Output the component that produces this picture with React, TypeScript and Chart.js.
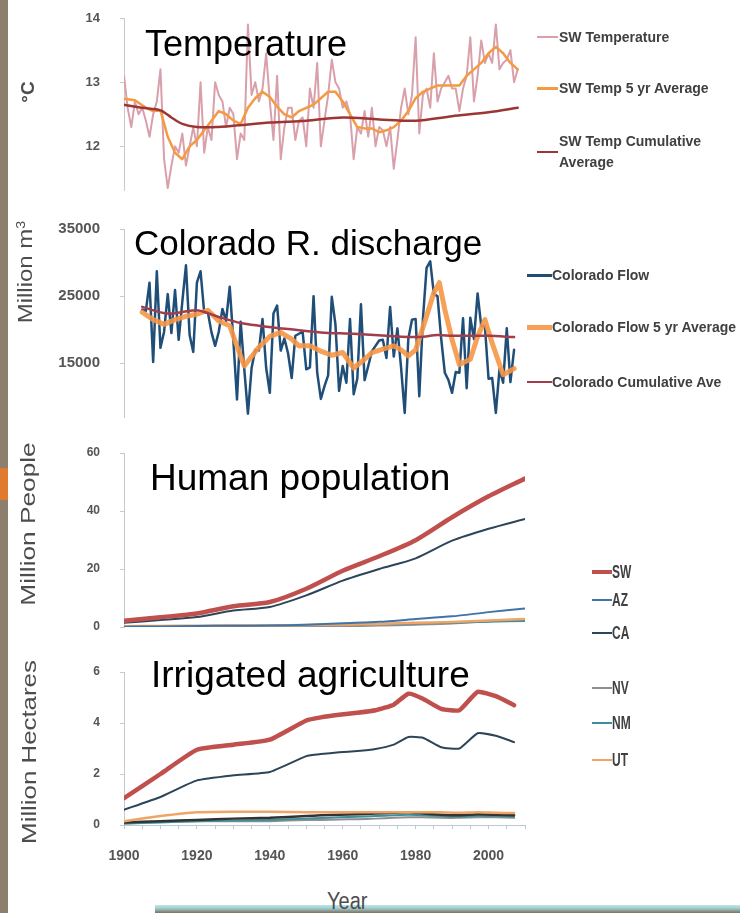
import React, { useEffect, useRef } from "react";
import { Chart, registerables } from "chart.js";
Chart.register(...registerables);

// ---------- DATA ----------
const xMinYear = 1900;
const xMaxYear = 2010;
const xTickLabels = [1900, 1920, 1940, 1960, 1980, 2000];

// Panel 1: SW temperature (°C), annual from 1900
const tempFirstYear = 1900;
const tempAnnual = [
  13.1, 12.6, 12.3, 12.7, 12.5, 12.6, 12.4, 12.15, 12.5, 12.7,
  13.2, 11.8, 11.35, 11.7, 12.0, 11.9, 12.2, 11.7, 12.0, 12.3,
  12.0, 13.0, 11.9, 12.3, 12.1, 13.0, 12.8, 12.7, 12.3, 12.6,
  12.5, 11.8, 12.2, 12.1, 13.9, 12.8, 13.0, 12.7, 12.9, 13.45,
  12.7, 12.1, 13.1, 11.8, 12.3, 12.6, 12.6, 12.1, 12.4, 12.45,
  12.0, 12.9, 12.6, 13.3, 12.0, 12.4, 12.8, 13.35, 13.0, 12.9,
  12.6, 12.7, 12.5, 11.8, 12.3, 12.2, 12.55, 12.15, 12.6, 12.0,
  12.3, 12.25, 12.0, 12.3, 11.65, 12.1, 12.6, 12.9, 12.5, 12.8,
  13.7, 12.2, 12.8, 12.9, 12.6, 13.45, 12.7, 12.9, 13.0, 13.1,
  12.9, 12.9, 12.55, 12.9, 13.1, 13.7, 12.7, 13.1, 13.65, 13.3,
  13.45, 13.3, 13.9, 13.2, 13.3, 13.35, 13.5, 13.0, 13.2,
];
const temp5Years = [1900, 1903, 1906, 1908, 1910, 1912, 1914, 1916, 1918, 1920, 1922, 1924, 1926, 1928, 1930, 1932, 1934, 1936, 1938, 1940, 1942, 1944, 1946, 1948, 1950, 1952, 1954, 1956, 1958, 1960, 1962, 1964, 1966, 1968, 1970, 1972, 1974, 1976, 1978, 1980, 1982, 1984, 1986, 1988, 1990, 1992, 1994, 1996, 1998, 2000, 2002, 2004, 2006, 2008];
const temp5Values = [12.74, 12.72, 12.6, 12.55, 12.56, 12.15, 11.9, 11.8, 12.0, 12.1, 12.25, 12.4, 12.55, 12.5, 12.4, 12.35, 12.6, 12.75, 12.85, 12.77, 12.62, 12.5, 12.45, 12.55, 12.6, 12.65, 12.75, 12.85, 12.85, 12.7, 12.5, 12.3, 12.28, 12.28, 12.22, 12.25, 12.3, 12.4, 12.55, 12.75, 12.85, 12.9, 12.95, 12.95, 12.95, 12.95, 13.1, 13.2, 13.3, 13.45, 13.55, 13.45, 13.3, 13.2];
const tempCumYears = [1900, 1905, 1910, 1913, 1916, 1920, 1925, 1930, 1940, 1950, 1960, 1970, 1980, 1990, 2000, 2008];
const tempCumValues = [12.65, 12.6, 12.56, 12.45, 12.35, 12.3, 12.3, 12.32, 12.37, 12.4, 12.45, 12.42, 12.4, 12.47, 12.53, 12.6];
const tempTicks = [12, 13, 14];

// Panel 2: Colorado River discharge (million m3), annual from 1905
const flowFirstYear = 1905;
const flowAnnual = [
  23000, 22800, 27000, 15200, 28700, 17300, 19700, 25300, 19500, 25900,
  18500, 24200, 29600, 19200, 16700, 27000, 28700, 22600, 22600, 19600,
  17600, 19700, 23100, 21300, 26400, 18400, 9600, 21200, 14100, 7500,
  14300, 17000, 16900, 21600, 14300, 10600, 22400, 23600, 16900, 18700,
  16500, 12800, 19100, 19400, 19700, 14100, 14400, 25000, 13600, 9700,
  11600, 13200, 24900, 20800, 10900, 14600, 12100, 21600, 10400, 12700,
  23800, 12500, 14600, 16800, 17600, 18400, 18500, 15800, 23400, 16000,
  20200, 14400, 7600, 18700, 21500, 21600, 10100, 21600, 29200, 30200,
  25300, 25000, 18700, 13600, 12500, 10600, 13700, 13600, 21700, 11300,
  21800, 18600, 25400, 20500, 20500, 12700, 12800, 7600, 14100, 12100,
  20200, 12200, 17000,
];
const flow5Years = [1905, 1908, 1911, 1914, 1917, 1920, 1923, 1926, 1929, 1931, 1933, 1935, 1937, 1940, 1943, 1946, 1948, 1951, 1954, 1957, 1960, 1963, 1966, 1968, 1971, 1974, 1976, 1978, 1980, 1983, 1985, 1986.5, 1988, 1990, 1992, 1995, 1997, 1999, 2001, 2004, 2007];
const flow5Values = [22600, 21500, 20800, 21500, 22000, 22300, 22900, 21300, 20600, 17500, 14600, 16000, 17400, 19000, 19600, 18600, 17600, 17600, 16800, 16200, 16600, 14300, 15600, 16600, 17100, 17600, 17000, 16100, 17000, 22000, 25500, 27000, 23000, 18500, 14800, 15600, 19000, 21500, 18000, 13300, 14200];
const flowCumYears = [1905, 1912, 1920, 1926, 1932, 1937, 1945, 1954, 1963, 1972, 1981, 1986, 1990, 2000, 2007];
const flowCumValues = [23400, 22400, 22900, 21900, 21000, 20600, 20100, 19600, 19400, 19100, 18900, 19200, 19100, 19100, 18900];
const flowTicks = [15000, 25000, 35000];

// Panel 3: Human population (million people), census years
const popYears = [1900, 1910, 1920, 1930, 1940, 1950, 1960, 1970, 1980, 1990, 2000, 2010];
const popSW = [2.13, 3.36, 4.65, 7.14, 8.6, 13.2, 19.4, 24.4, 29.95, 37.85, 45.05, 51.16];
const popAZ = [0.12, 0.2, 0.33, 0.44, 0.5, 0.75, 1.3, 1.77, 2.72, 3.67, 5.13, 6.39];
const popCA = [1.49, 2.38, 3.43, 5.68, 6.91, 10.9, 16.0, 20.0, 23.67, 29.76, 33.87, 37.25];
const popNV = [0.04, 0.08, 0.08, 0.09, 0.11, 0.16, 0.29, 0.49, 0.8, 1.2, 2.0, 2.7];
const popNM = [0.2, 0.33, 0.36, 0.42, 0.53, 0.68, 0.95, 1.02, 1.3, 1.5, 1.82, 2.06];
const popUT = [0.28, 0.37, 0.45, 0.51, 0.55, 0.69, 0.89, 1.06, 1.46, 1.72, 2.23, 2.76];
const popTicks = [0, 20, 40, 60];

// Panel 4: Irrigated agriculture (million hectares)
const irrYears = [1900, 1910, 1920, 1930, 1940, 1950, 1954, 1959, 1964, 1969, 1974, 1978, 1982, 1987, 1992, 1997, 2002, 2007];
const irrSW = [1.05, 2.0, 2.95, 3.15, 3.35, 4.1, 4.22, 4.32, 4.4, 4.5, 4.72, 5.15, 4.95, 4.55, 4.5, 5.22, 5.05, 4.7];
const irrCA = [0.6, 1.1, 1.75, 1.95, 2.08, 2.7, 2.78, 2.85, 2.9, 2.98, 3.15, 3.45, 3.42, 3.05, 3.0, 3.6, 3.5, 3.25];
const irrAZ = [0.1, 0.15, 0.2, 0.25, 0.28, 0.35, 0.38, 0.4, 0.42, 0.45, 0.48, 0.5, 0.45, 0.4, 0.38, 0.42, 0.4, 0.38];
const irrNV = [0.08, 0.12, 0.15, 0.15, 0.15, 0.2, 0.2, 0.22, 0.23, 0.25, 0.28, 0.3, 0.3, 0.28, 0.28, 0.3, 0.3, 0.28];
const irrNM = [0.05, 0.1, 0.15, 0.18, 0.2, 0.25, 0.27, 0.3, 0.32, 0.35, 0.38, 0.4, 0.38, 0.35, 0.33, 0.36, 0.35, 0.33];
const irrUT = [0.15, 0.35, 0.5, 0.52, 0.52, 0.5, 0.5, 0.5, 0.5, 0.5, 0.5, 0.5, 0.5, 0.5, 0.48, 0.5, 0.48, 0.47];
const irrTicks = [0, 2, 4, 6];

// Labels
const panelTitles = ["Temperature", "Colorado R. discharge", "Human population", "Irrigated agriculture"];
const tempLegend = ["SW Temperature", "SW Temp 5 yr Average", "SW Temp Cumulative\nAverage"];
const flowLegend = ["Colorado Flow", "Colorado Flow 5 yr Average", "Colorado Cumulative Ave"];
const stateLegend = ["SW", "AZ", "CA", "NV", "NM", "UT"];

// ---------- STYLE ----------
const C = {
  tempAnnual: "#d9a0ab",
  temp5: "#f39a42",
  tempCum: "#9e3535",
  flow: "#1f4e79",
  flow5: "rgba(246,150,70,0.9)",
  flowCum: "#a23d4c",
  SW: "#c0504d",
  AZ: "#3f74a8",
  CA: "#2c4558",
  NV: "#8f8f8f",
  NM: "#3e8f9c",
  UT: "#eea566",
};
const SANS = "'Liberation Sans', Arial, Helvetica, sans-serif";
const AXIS_COLOR = "#c9c9c9";
const PLOT_LEFT = 124;
const PLOT_RIGHT = 525;
const CANVAS_W = 740;
const PAD = 30; // vertical layout padding (covers the y-axis label padding)

const pts = (xs: number[], ys: number[]) => xs.map((x, i) => ({ x, y: ys[i] }));
const seq = (first: number, ys: number[]) => ys.map((y, i) => ({ x: first + i, y }));

function line(data: any[], color: string, width: number, tension = 0) {
  return {
    data,
    borderColor: color,
    backgroundColor: color,
    borderWidth: width,
    pointRadius: 0,
    tension,
    fill: false,
    borderJoinStyle: "round",
    borderCapStyle: "round",
  };
}

function makeOptions(opts: {
  yMin: number; yMax: number; yTicks: number[]; tickSize: number; showX: boolean;
}) {
  const xAxis: any = {
    type: "linear",
    min: xMinYear,
    max: xMaxYear,
    display: opts.showX,
  };
  if (opts.showX) {
    xAxis.afterBuildTicks = (s: any) => {
      const t = [];
      for (let y = xMinYear; y <= xMaxYear; y += 5) t.push({ value: y });
      s.ticks = t;
    };
    xAxis.afterFit = (s: any) => { s.height = 42; };
    xAxis.border = { display: true, color: "#bcc6d6", width: 1 };
    xAxis.grid = { drawOnChartArea: false, drawTicks: true, tickLength: 4, color: "#bcc6d6" };
    xAxis.ticks = {
      autoSkip: false,
      maxRotation: 0,
      padding: 19,
      color: "#555",
      font: { family: SANS, size: 14, weight: "bold" },
      callback: (v: any) => (xTickLabels.includes(Number(v)) ? String(v) : ""),
    };
  }
  return {
    responsive: false,
    animation: false,
    devicePixelRatio: 1,
    layout: {
      autoPadding: false,
      padding: { left: 0, right: CANVAS_W - PLOT_RIGHT, top: PAD, bottom: opts.showX ? 0 : PAD },
    },
    plugins: { legend: { display: false }, tooltip: { enabled: false }, title: { display: false } },
    scales: {
      x: xAxis,
      y: {
        min: opts.yMin,
        max: opts.yMax,
        afterBuildTicks: (s: any) => { s.ticks = opts.yTicks.map((v) => ({ value: v })); },
        afterFit: (s: any) => { s.width = PLOT_LEFT; },
        border: { display: true, color: AXIS_COLOR, width: 1 },
        grid: { drawOnChartArea: false, drawTicks: true, tickLength: 4, color: AXIS_COLOR },
        ticks: {
          padding: 20,
          color: "#555",
          font: { family: SANS, size: opts.tickSize, weight: "bold" },
          callback: (v: any) => String(v),
        },
      },
    },
  } as any;
}

const abs = (s: React.CSSProperties): React.CSSProperties => ({ position: "absolute", ...s });

function Title({ text, left, baseline, size }: { text: string; left: number; baseline: number; size: number }) {
  return (
    <div style={abs({ left, top: baseline - 0.8465 * size, fontFamily: SANS, fontSize: size, lineHeight: 1, color: "#000", whiteSpace: "nowrap" })}>
      {text}
    </div>
  );
}

function UnitLabel({ children, cx, cy, size, scale, bold }: any) {
  return (
    <div
      style={abs({
        left: cx, top: cy, transform: `translate(-50%,-50%) rotate(-90deg) scaleX(${scale})`,
        fontFamily: SANS, fontSize: size, lineHeight: 1, color: "#4d4d4d", whiteSpace: "nowrap",
        fontWeight: bold ? "bold" : "normal",
      })}
    >
      {children}
    </div>
  );
}

function LegendRow({ x, y, lineW, color, thick, text, size, scaleY, textGap }: any) {
  return (
    <div style={abs({ left: x, top: y, height: 0 })}>
      <div style={abs({ left: 0, top: -thick / 2, width: lineW, height: thick, background: color })} />
      <div
        style={abs({
          left: lineW + (textGap ?? 1), top: 0, transform: `translateY(-50%) scaleY(${scaleY ?? 1})`, transformOrigin: "left center",
          fontFamily: SANS, fontSize: size, fontWeight: "bold", color: "#404040", whiteSpace: "pre", lineHeight: 1.5,
        })}
      >
        {text}
      </div>
    </div>
  );
}

export default function App() {
  const r1 = useRef<HTMLCanvasElement>(null);
  const r2 = useRef<HTMLCanvasElement>(null);
  const r3 = useRef<HTMLCanvasElement>(null);
  const r4 = useRef<HTMLCanvasElement>(null);

  useEffect(() => {
    const charts: Chart[] = [];
    charts.push(new Chart(r1.current!, {
      type: "line",
      data: {
        datasets: [
          line(pts(tempCumYears, tempCumValues), C.tempCum, 2.5, 0.3),
          line(pts(temp5Years, temp5Values), C.temp5, 2.5),
          line(seq(tempFirstYear, tempAnnual), C.tempAnnual, 2),
        ] as any,
      },
      options: makeOptions({ yMin: 11.32, yMax: 14, yTicks: tempTicks, tickSize: 13, showX: false }),
    }));
    charts.push(new Chart(r2.current!, {
      type: "line",
      data: {
        datasets: [
          line(pts(flowCumYears, flowCumValues), C.flowCum, 2.5, 0.3),
          line(pts(flow5Years, flow5Values), C.flow5, 5),
          line(seq(flowFirstYear, flowAnnual), C.flow, 2.5),
        ] as any,
      },
      options: makeOptions({ yMin: 7000, yMax: 35000, yTicks: flowTicks, tickSize: 15, showX: false }),
    }));
    charts.push(new Chart(r3.current!, {
      type: "line",
      data: {
        datasets: [
          line(pts(popYears, popSW), C.SW, 4.5, 0.25),
          line(pts(popYears, popCA), C.CA, 2, 0.25),
          line(pts(popYears, popAZ), C.AZ, 2, 0.25),
          line(pts(popYears, popUT), C.UT, 2.5, 0.25),
          line(pts(popYears, popNM), C.NM, 2, 0.25),
          line(pts(popYears, popNV), C.NV, 2, 0.25),
        ] as any,
      },
      options: makeOptions({ yMin: 0, yMax: 60, yTicks: popTicks, tickSize: 12, showX: false }),
    }));
    charts.push(new Chart(r4.current!, {
      type: "line",
      data: {
        datasets: [
          line(pts(irrYears, irrSW), C.SW, 4.5, 0.15),
          line(pts(irrYears, irrCA), C.CA, 2, 0.15),
          line(pts(irrYears, irrUT), C.UT, 2.5, 0.15),
          line(pts(irrYears, irrAZ), "#333", 2.5, 0.15),
          line(pts(irrYears, irrNM), C.NM, 2, 0.15),
          line(pts(irrYears, irrNV), C.NV, 2, 0.15),
        ] as any,
      },
      options: makeOptions({ yMin: 0, yMax: 6, yTicks: irrTicks, tickSize: 12, showX: true }),
    }));
    return () => charts.forEach((c) => c.destroy());
  }, []);

  // plot areas: P1 18..190, P2 229..417, P3 453..627, P4 672..825
  return (
    <div style={abs({ left: 0, top: 0, width: 740, height: 913, background: "#fff", overflow: "hidden" })}>
      {/* slide background remnants */}
      <div style={abs({ left: 0, top: 0, width: 8, height: 913, background: "#8c7f6c" })} />
      <div style={abs({ left: 0, top: 468, width: 8, height: 32, background: "#e07a2e" })} />
      <div style={abs({ left: 155, top: 905, width: 585, height: 8, background: "linear-gradient(180deg, #bfe6ea 0%, #9fcfd4 40%, #7f705a 100%)" })} />

      <canvas ref={r1} width={CANVAS_W} height={172 + 2 * PAD} style={abs({ left: 0, top: 18 - PAD })} />
      <canvas ref={r2} width={CANVAS_W} height={188 + 2 * PAD} style={abs({ left: 0, top: 229 - PAD })} />
      <canvas ref={r3} width={CANVAS_W} height={174 + 2 * PAD} style={abs({ left: 0, top: 453 - PAD })} />
      <canvas ref={r4} width={CANVAS_W} height={153 + PAD + 42} style={abs({ left: 0, top: 672 - PAD })} />

      <UnitLabel cx={27} cy={92} size={19} scale={1} bold>°C</UnitLabel>
      <UnitLabel cx={25} cy={272} size={20} scale={1.2}>Million m<sup style={{ fontSize: 12 }}>3</sup></UnitLabel>
      <UnitLabel cx={27} cy={524} size={21} scale={1.25}>Million People</UnitLabel>
      <UnitLabel cx={28} cy={752} size={21} scale={1.23}>Million Hectares</UnitLabel>

      <Title text={panelTitles[0]} left={145} baseline={56} size={36} />
      <Title text={panelTitles[1]} left={134} baseline={255} size={35} />
      <Title text={panelTitles[2]} left={150} baseline={490} size={37} />
      <Title text={panelTitles[3]} left={151} baseline={687} size={37} />

      <LegendRow x={537} y={37} lineW={21} color={C.tempAnnual} thick={2} text={tempLegend[0]} size={14} />
      <LegendRow x={537} y={88} lineW={21} color={C.temp5} thick={3} text={tempLegend[1]} size={14} />
      <LegendRow x={537} y={152} lineW={21} color={C.tempCum} thick={2.5} text={tempLegend[2]} size={14} />

      <LegendRow x={527} y={275} lineW={25} color={C.flow} thick={3} text={flowLegend[0]} size={14} textGap={0} />
      <LegendRow x={527} y={327} lineW={25} color={C.flow5} thick={5} text={flowLegend[1]} size={14} textGap={0} />
      <LegendRow x={527} y={382} lineW={25} color={C.flowCum} thick={2.5} text={flowLegend[2]} size={14} textGap={0} />

      <LegendRow x={592} y={572} lineW={20} color={C.SW} thick={4} text={stateLegend[0]} size={12} scaleY={1.6} textGap={0} />
      <LegendRow x={592} y={600} lineW={20} color={C.AZ} thick={2} text={stateLegend[1]} size={12} scaleY={1.6} textGap={0} />
      <LegendRow x={592} y={633} lineW={20} color={C.CA} thick={2} text={stateLegend[2]} size={12} scaleY={1.6} textGap={0} />
      <LegendRow x={592} y={688} lineW={20} color={C.NV} thick={2} text={stateLegend[3]} size={12} scaleY={1.6} textGap={0} />
      <LegendRow x={592} y={723} lineW={20} color={C.NM} thick={2} text={stateLegend[4]} size={12} scaleY={1.6} textGap={0} />
      <LegendRow x={592} y={760} lineW={20} color={C.UT} thick={2.5} text={stateLegend[5]} size={12} scaleY={1.6} textGap={0} />

      <div style={abs({ left: 327, top: 889, fontFamily: SANS, fontSize: 20, lineHeight: 1, color: "#4d4d4d", transform: "scaleY(1.15)", transformOrigin: "left top" })}>
        Year
      </div>
    </div>
  );
}
